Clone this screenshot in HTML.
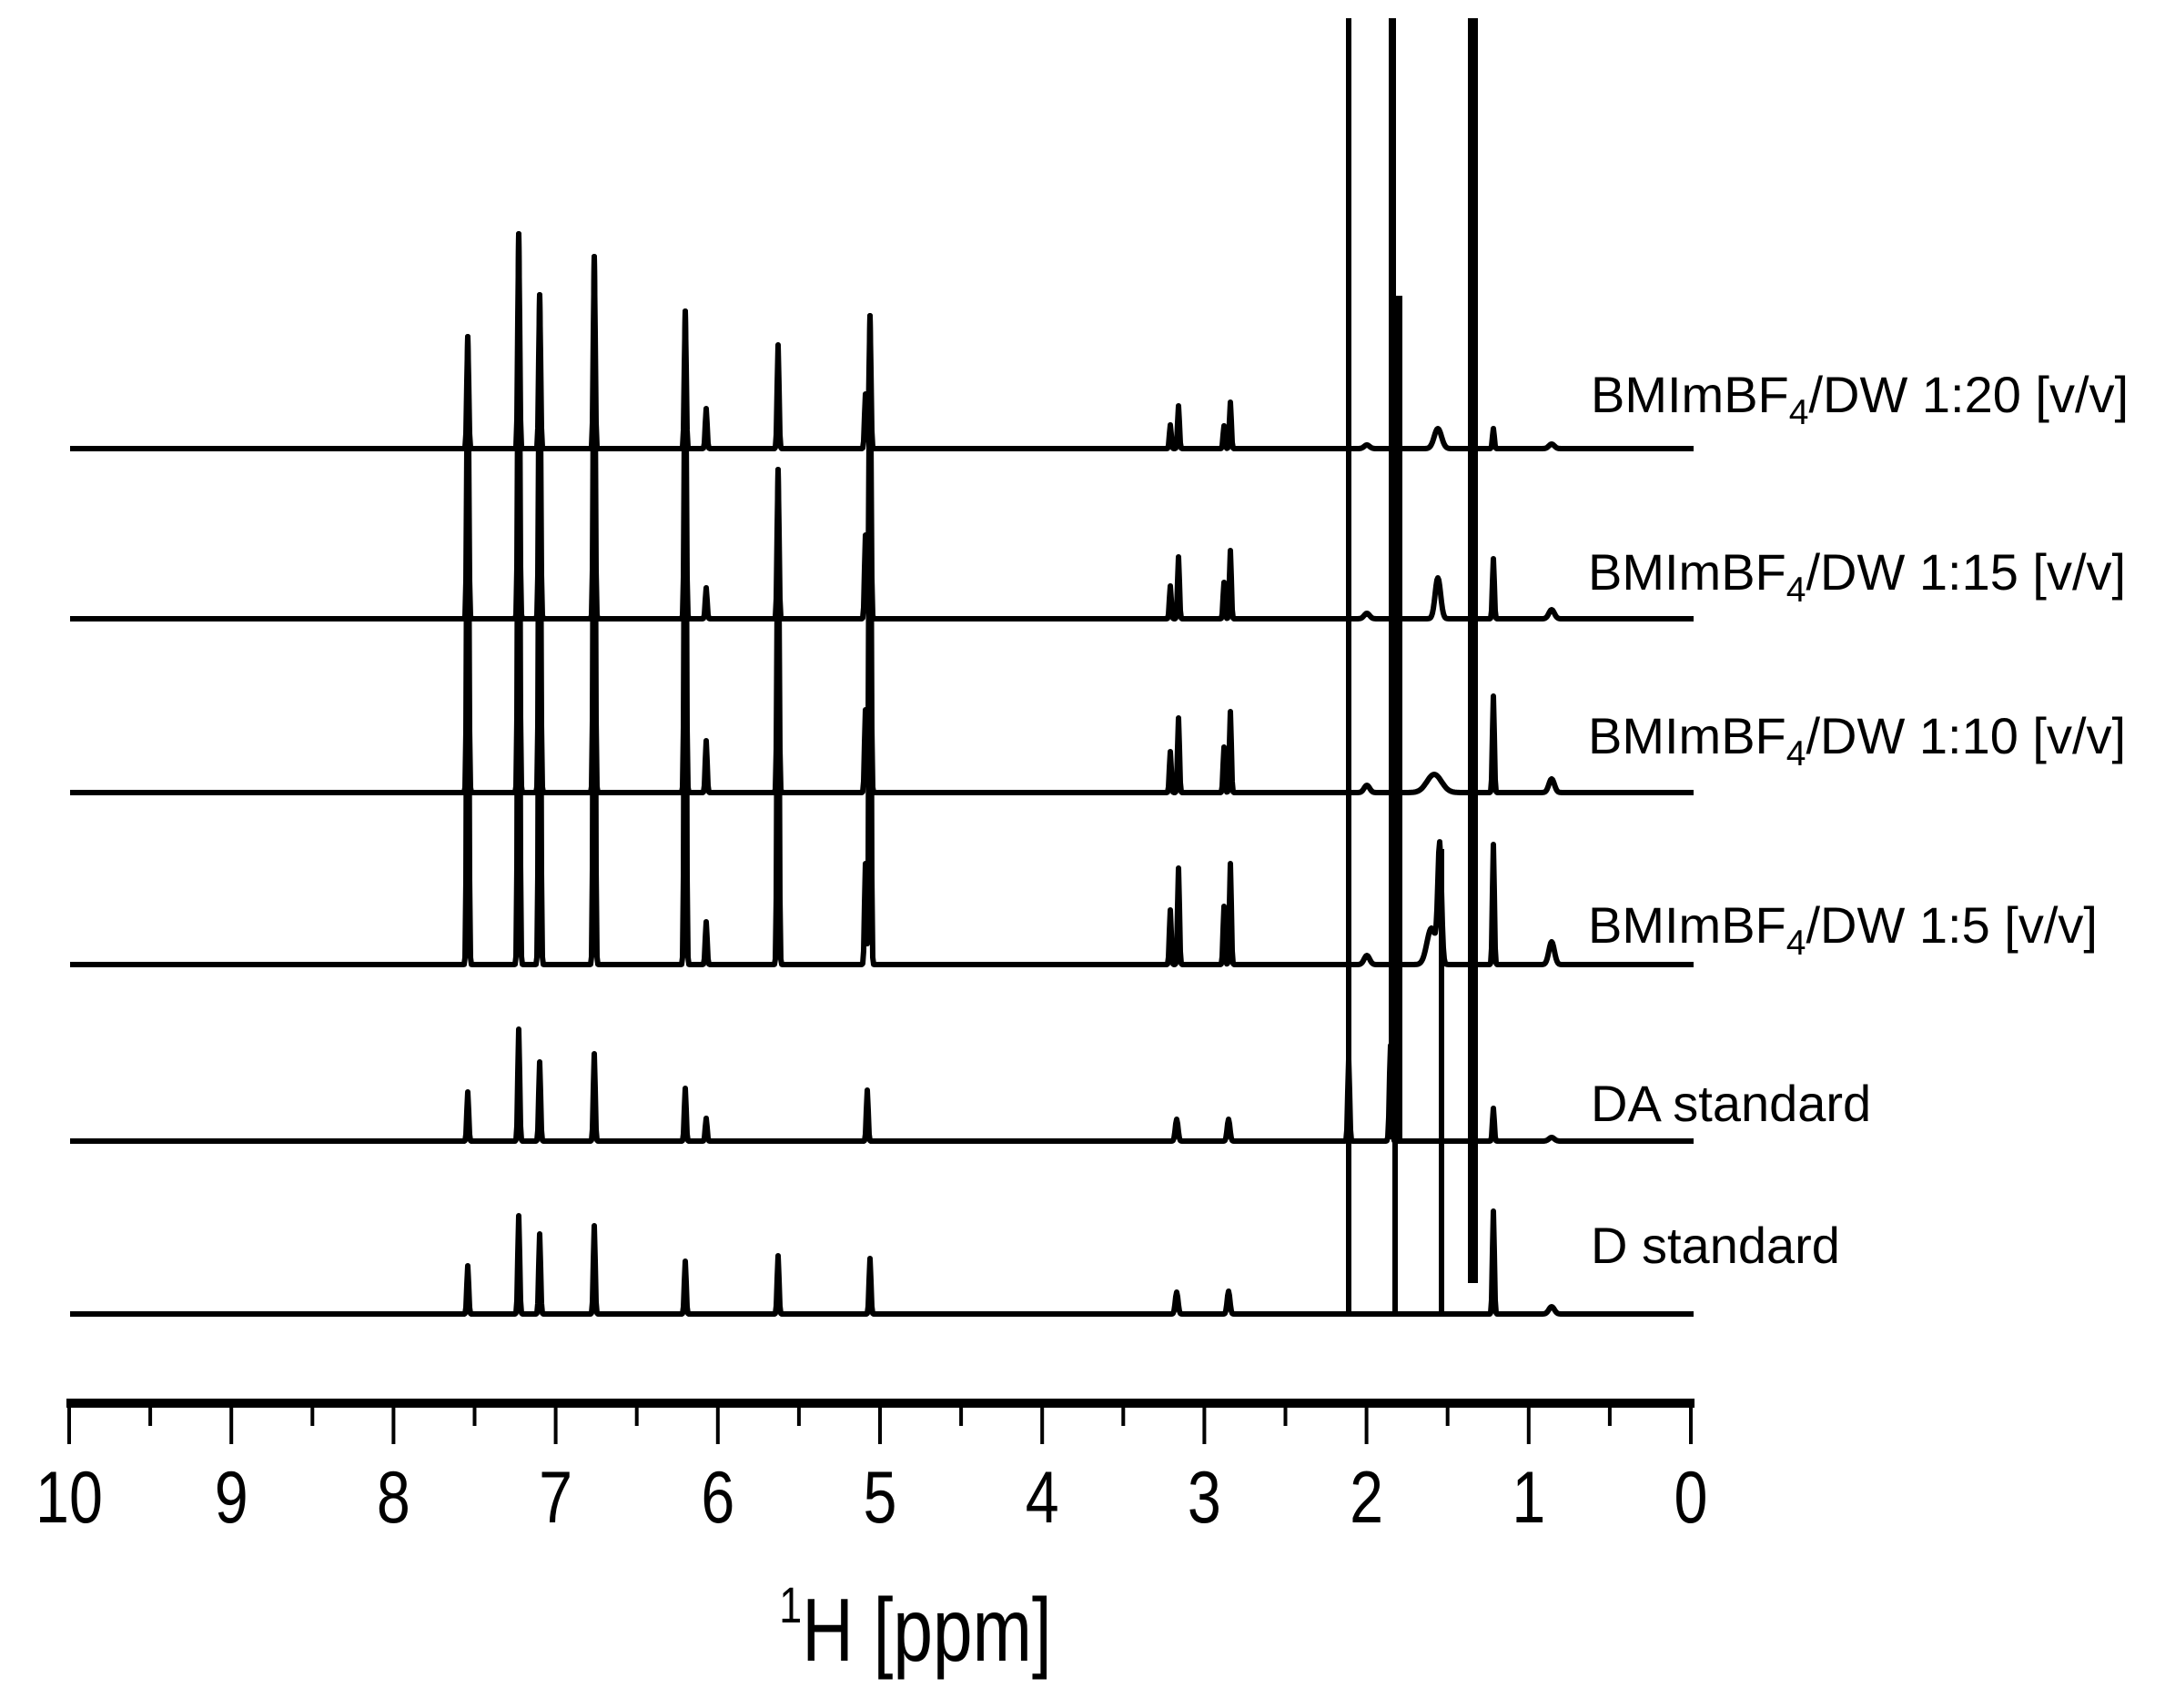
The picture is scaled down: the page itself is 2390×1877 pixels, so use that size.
<!DOCTYPE html>
<html><head><meta charset="utf-8">
<style>
html,body{margin:0;padding:0;background:#fff;}
body{width:2390px;height:1877px;overflow:hidden;position:relative;font-family:"Liberation Sans",Arial,sans-serif;}
svg{position:absolute;left:0;top:0;}
</style></head>
<body>
<svg id="s" width="2390" height="1877" viewBox="0 0 2390 1877" xmlns="http://www.w3.org/2000/svg">
<g id="tr" fill="none" stroke="#000" stroke-width="6" stroke-linejoin="round"></g>
<rect x="1479" y="20" width="6" height="1424" fill="#000"/>
<rect x="1526" y="20" width="8" height="1232" fill="#000"/>
<rect x="1530" y="1240" width="6" height="204" fill="#000"/>
<rect x="1534" y="325" width="7" height="930" fill="#000"/>
<rect x="1613" y="20" width="11" height="1390" fill="#000"/>
<rect x="1581" y="933" width="6" height="511" fill="#000"/>
<rect x="73" y="1537" width="1789" height="10" fill="#000"/>
<g id="ticks" stroke="#000" stroke-width="4"></g>
<g id="tl" font-size="81" text-anchor="middle" fill="#000"></g>
<text x="1006" y="1825" font-size="98" text-anchor="middle" transform="translate(1006 0) scale(0.8 1) translate(-1006 0)"><tspan font-size="56" dy="-42">1</tspan><tspan dy="42">H [ppm]</tspan></text>
<g font-size="56" fill="#000">
<text x="1748" y="453">BMImBF<tspan font-size="39" dy="13">4</tspan><tspan dy="-13">/DW 1:20 [v/v]</tspan></text>
<text x="1745" y="648">BMImBF<tspan font-size="39" dy="13">4</tspan><tspan dy="-13">/DW 1:15 [v/v]</tspan></text>
<text x="1745" y="828">BMImBF<tspan font-size="39" dy="13">4</tspan><tspan dy="-13">/DW 1:10 [v/v]</tspan></text>
<text x="1745" y="1036">BMImBF<tspan font-size="39" dy="13">4</tspan><tspan dy="-13">/DW 1:5 [v/v]</tspan></text>
<text x="1748" y="1232">DA standard</text>
<text x="1748" y="1388">D standard</text>
</g>
</svg>
<script>
(function(){
var NS="http://www.w3.org/2000/svg";
function X(p){return 76+178.2*(10-p);}
var tk=document.getElementById('ticks'),tl=document.getElementById('tl');
for(var i=0;i<=20;i++){var p=10-i*0.5;var x=X(p);var l=document.createElementNS(NS,'line');
l.setAttribute('x1',x);l.setAttribute('x2',x);l.setAttribute('y1',1540);l.setAttribute('y2',i%2?1567:1587);tk.appendChild(l);
if(i%2==0){var t=document.createElementNS(NS,'text');t.setAttribute('x',x);t.setAttribute('y',1673);
t.setAttribute('transform','translate('+x+' 0) scale(0.82 1) translate('+(-x)+' 0)');t.textContent=String(p);tl.appendChild(t);}}
function pk(b,list){return {b:b,p:list};}
var common=[[7.54,370],[7.23,257],[7.10,324],[6.76,282],[6.20,342],[5.06,347]];
function bm(b,extra){var L=[];common.forEach(function(c){L.push([c[0],b-c[1],1]);});return pk(b,L.concat(extra));}
var T=[
 bm(493,[[6.07,44,1],[5.63,114,1],[5.09,60,1],[3.21,26,1],[3.16,47,1],[2.88,25,1],[2.84,51,1],[1.56,22,4],[1.22,22,1],[0.86,5,3],[2.0,4,3]]),
 bm(680,[[6.07,34,1],[5.63,164,1],[5.09,92,1],[3.21,36,1],[3.16,68,1],[2.88,40,1],[2.84,75,1],[1.56,45,3],[1.22,66,1],[0.86,10,3],[2.0,6,3]]),
 bm(871,[[6.07,57,1],[5.63,355,1],[5.09,91,1],[3.21,45,1],[3.16,82,1],[2.88,50,1],[2.84,89,1],[1.58,20,8],[1.22,106,1],[0.86,15,3],[2.0,8,3]]),
 bm(1060,[[6.07,47,1],[5.63,544,1],[5.09,111,1],[3.21,60,1],[3.16,106,1],[2.88,64,1],[2.84,111,1],[1.55,127,2],[1.60,40,5],[1.22,132,1],[0.86,25,3],[2.0,10,3]]),
 pk(1254,[[7.54,54,1],[7.23,123,1],[7.10,87,1],[6.76,96,1],[6.20,58,1],[6.07,25,1],[5.08,56,1],[3.17,24,1.5],[2.85,24,1.5],[2.11,90,1],[1.85,105,1.2],[1.22,36,1],[0.86,4,3]]),
 pk(1444,[[7.54,53,1],[7.23,108,1],[7.10,88,1],[6.76,97,1],[6.20,58,1],[5.63,64,1],[5.06,61,1],[3.17,24,1.5],[2.85,25,1.5],[1.22,113,1],[0.86,8,3]])
];
var g=document.getElementById('tr');
T.forEach(function(tr){var d='';var pts=tr.p.map(function(q){return [Math.round(X(q[0])),q[1],q[2]];});
 for(var x=77;x<=1861;x++){var y=0;pts.forEach(function(q){var dx=x-q[0];y+=q[1]*Math.exp(-dx*dx/(2*q[2]*q[2]));});
  d+=(x==77?'M':'L')+x+' '+(tr.b-y).toFixed(1);}
 var p=document.createElementNS(NS,'path');p.setAttribute('d',d);g.appendChild(p);});
})();
</script>
</body></html>
